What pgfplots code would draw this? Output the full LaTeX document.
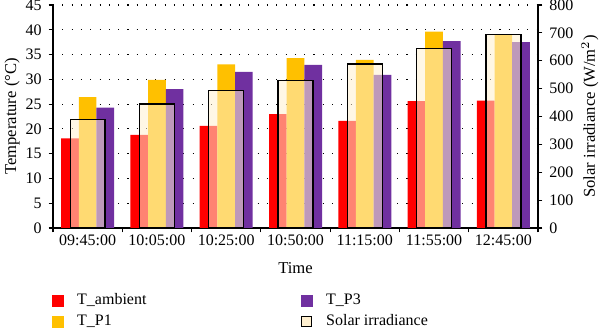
\documentclass[border=0pt]{standalone}
\usepackage{pgfplots}
\pgfplotsset{compat=1.18}
\usepackage{fontspec}
\setmainfont{Liberation Serif}
\definecolor{camb}{RGB}{255,0,0}
\definecolor{cpone}{RGB}{255,192,0}
\definecolor{cpthree}{RGB}{112,48,160}
\definecolor{csolar}{RGB}{255,240,208}
\begin{document}
\begin{tikzpicture}
\pgfplotsset{
  base/.style={
    scale only axis, width=242.5pt, height=111.5pt,
    xmin=0, xmax=7,
    tick align=outside, major tick length=2.2pt,
    every tick/.style={black, line width=0.6pt},
    axis line style={line width=0.6pt, -},
    tick label style={font=\fontsize{8}{9}\selectfont},
    label style={font=\fontsize{8.3}{9}\selectfont},
    /pgf/number format/assume math mode=true,
  }
}
\begin{axis}[base,
  axis x line*=bottom, axis y line*=left,
  ymin=0, ymax=45, ytick={0,5,...,45},
  xtick={0,1,...,7}, xticklabels={},
  extra x ticks={0.5,1.5,...,6.5},
  extra x tick labels={09:45:00,10:05:00,10:25:00,10:50:00,11:15:00,11:55:00,12:45:00},
  extra x tick style={major tick length=0pt, grid=none},
  ymajorgrids,
  grid style={black, line width=0.55pt, dash pattern=on 0.55pt off 4.1pt},
  xlabel={Time},
  xlabel style={at={(axis description cs:0.5,0)}, anchor=center, yshift=-20pt},
  ylabel={Temperature (\textdegree C)},
  ylabel style={at={(axis description cs:-0.0845,0.5)}, anchor=center, rotate=0},
  legend style={at={(axis description cs:0,0)}, anchor=north west, xshift=-0.5pt, yshift=-31pt,
    draw=none, fill=none, font=\fontsize{8}{9}\selectfont, row sep=0.6pt,
    inner sep=0pt, nodes={inner sep=1.5pt},
    /tikz/every odd column/.append style={column sep=5pt}},
  legend columns=2,
  legend cell align=left,
]
\addplot[ybar, bar width=0.255, bar shift=-0.255, fill=camb, draw=none, forget plot]
  coordinates {(0.5,18.1) (1.5,18.8) (2.5,20.6) (3.5,23.0) (4.5,21.6) (5.5,25.6) (6.5,25.7)};
\addplot[ybar, bar width=0.255, bar shift=0, fill=cpone, draw=none, forget plot]
  coordinates {(0.5,26.4) (1.5,29.9) (2.5,33.0) (3.5,34.3) (4.5,33.9) (5.5,39.6) (6.5,39.0)};
\addplot[ybar, bar width=0.255, bar shift=0.255, fill=cpthree, draw=none, forget plot]
  coordinates {(0.5,24.3) (1.5,28.0) (2.5,31.5) (3.5,32.9) (4.5,30.9) (5.5,37.7) (6.5,37.5)};
\addlegendimage{legend image code/.code={\fill[camb] (0pt,-2.75pt) rectangle (5.5pt,2.75pt);}}
\addlegendentry{\makebox[110.5pt][l]{T\_ambient}}
\addlegendimage{legend image code/.code={\fill[cpthree] (0pt,-2.75pt) rectangle (5.5pt,2.75pt);}}
\addlegendentry{T\_P3}
\addlegendimage{legend image code/.code={\fill[cpone] (0pt,-2.75pt) rectangle (5.5pt,2.75pt);}}
\addlegendentry{\makebox[110.5pt][l]{T\_P1}}
\addlegendimage{legend image code/.code={\filldraw[fill=csolar, draw=black, line width=0.55pt] (0pt,-2.5pt) rectangle (5pt,2.5pt);}}
\addlegendentry{Solar irradiance}
\coordinate (bl) at (rel axis cs:0,0);
\coordinate (tr) at (rel axis cs:1,1);
\end{axis}
\begin{axis}[base,
  axis x line=none, axis y line*=right,
  ymin=0, ymax=800, ytick={0,100,...,800},
  ylabel={Solar irradiance (W/m$^2$)},
  ylabel style={at={(axis description cs:1.107,0.5)}, anchor=center},
]
\addplot[ybar, bar width=0.505, bar shift=0, fill=csolar, fill opacity=0.55, draw=black, line width=0.65pt]
  coordinates {(0.5,388) (1.5,445) (2.5,493) (3.5,528) (4.5,588) (5.5,645) (6.5,695)};
\end{axis}
\pgfresetboundingbox
\path[use as bounding box] ([shift={(-26.5pt,-50pt)}]bl) rectangle ([shift={(31pt,2.5pt)}]tr);
\end{tikzpicture}
\end{document}
